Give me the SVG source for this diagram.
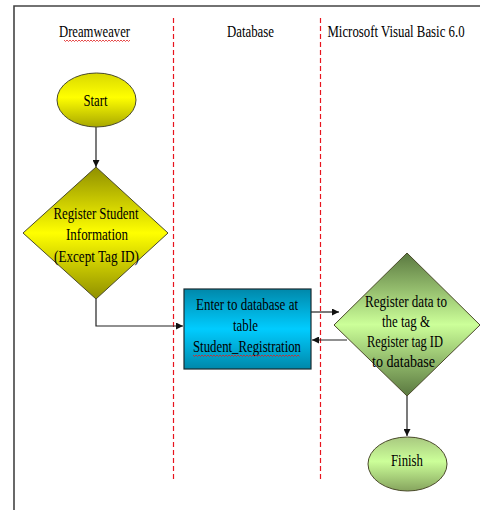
<svg xmlns="http://www.w3.org/2000/svg" width="480" height="510" viewBox="0 0 480 510">
<style>
text{font-family:"Liberation Serif","Times New Roman","DejaVu Serif",serif;font-size:17px;fill:#000;text-anchor:middle}
.lane{stroke:#e8141e;stroke-width:1.2;stroke-dasharray:5,3;fill:none}
.conn{stroke:#222;stroke-width:1.2;fill:none}
.node{stroke:#4a4a2a;stroke-width:1}
.spell{stroke:#e02020;stroke-width:0.8;fill:none}
</style>
<defs>
<linearGradient id="gYellowE" x1="0" y1="0" x2="0" y2="1">
<stop offset="0" stop-color="#d8d800"/><stop offset="0.45" stop-color="#ffff00"/><stop offset="1" stop-color="#a8a800"/>
</linearGradient>
<linearGradient id="gYellowD" x1="0" y1="0" x2="0" y2="1">
<stop offset="0" stop-color="#8f8f00"/><stop offset="0.5" stop-color="#ffff00"/><stop offset="1" stop-color="#8f8f00"/>
</linearGradient>
<linearGradient id="gGreenE" x1="0" y1="0" x2="0" y2="1">
<stop offset="0" stop-color="#a8c880"/><stop offset="0.45" stop-color="#ccff99"/><stop offset="1" stop-color="#86a45e"/>
</linearGradient>
<linearGradient id="gGreenD" x1="0" y1="0" x2="0" y2="1">
<stop offset="0" stop-color="#5a7840"/><stop offset="0.5" stop-color="#ccff99"/><stop offset="1" stop-color="#5a7840"/>
</linearGradient>
<linearGradient id="gBlue" x1="0" y1="0" x2="0" y2="1">
<stop offset="0" stop-color="#0088aa"/><stop offset="0.5" stop-color="#00ccff"/><stop offset="1" stop-color="#0088aa"/>
</linearGradient>
<marker id="arr" viewBox="0 0 10 10" refX="10" refY="5" markerWidth="7" markerHeight="7" orient="auto" markerUnits="userSpaceOnUse">
<path d="M0,0 L10,5 L0,10 z" fill="#111"/>
</marker>
</defs>
<rect width="480" height="510" fill="#fff"/>
<g id="frame">
<path d="M14,510 L14,6 L480,6" fill="none" stroke="#444" stroke-width="1.6"/>
</g>
<g id="lanes">
<line class="lane" x1="173.5" y1="18" x2="173.5" y2="482"/>
<line class="lane" x1="320.5" y1="18" x2="320.5" y2="482"/>
<text x="94.5" y="37" textLength="71" lengthAdjust="spacingAndGlyphs">Dreamweaver</text>
<path class="spell" d="M64,40 l1.5,1.5 l1.5,-1.5 l1.5,1.5 l1.5,-1.5 l1.5,1.5 l1.5,-1.5 l1.5,1.5 l1.5,-1.5 l1.5,1.5 l1.5,-1.5 l1.5,1.5 l1.5,-1.5 l1.5,1.5 l1.5,-1.5 l1.5,1.5 l1.5,-1.5 l1.5,1.5 l1.5,-1.5 l1.5,1.5 l1.5,-1.5 l1.5,1.5 l1.5,-1.5 l1.5,1.5 l1.5,-1.5 l1.5,1.5 l1.5,-1.5 l1.5,1.5 l1.5,-1.5 l1.5,1.5 l1.5,-1.5 l1.5,1.5 l1.5,-1.5 l1.5,1.5 l1.5,-1.5 l1.5,1.5 l1.5,-1.5 l1.5,1.5 l1.5,-1.5 l1.5,1.5 l1.5,-1.5 l1.5,1.5 l1.5,-1.5 l1.5,1.5 l1.5,-1.5"/>
<text x="250.5" y="37" textLength="47" lengthAdjust="spacingAndGlyphs">Database</text>
<text transform="translate(396,37) scale(0.754,1)" x="0" y="0">Microsoft Visual Basic 6.0</text>
</g>
<g id="connectors">
<line class="conn" x1="96" y1="127" x2="96" y2="167" marker-end="url(#arr)"/>
<polyline class="conn" points="96,299 96,326 183,326" marker-end="url(#arr)"/>
<line class="conn" x1="311" y1="312" x2="339" y2="312" marker-end="url(#arr)"/>
<line class="conn" x1="347" y1="340" x2="312" y2="340" marker-end="url(#arr)"/>
<line class="conn" x1="407" y1="396" x2="407" y2="436" marker-end="url(#arr)"/>
</g>
<g id="start">
<ellipse class="node" cx="96.5" cy="100" rx="39.5" ry="27" fill="url(#gYellowE)"/>
<text x="95.5" y="106" textLength="24" lengthAdjust="spacingAndGlyphs">Start</text>
</g>
<g id="register-student">
<polygon class="node" points="96,167 168,233 96,299 23,233" fill="url(#gYellowD)"/>
<text x="96" y="219" textLength="85" lengthAdjust="spacingAndGlyphs">Register Student</text>
<text x="97" y="240" textLength="62" lengthAdjust="spacingAndGlyphs">Information</text>
<text x="96.5" y="262" textLength="85" lengthAdjust="spacingAndGlyphs">(Except Tag ID)</text>
</g>
<g id="enter-database">
<rect x="184" y="289" width="127" height="80" fill="url(#gBlue)" stroke="#1a2a30" stroke-width="1.2"/>
<text x="247" y="310" textLength="102" lengthAdjust="spacingAndGlyphs">Enter to database at</text>
<text x="245.5" y="331" textLength="25" lengthAdjust="spacingAndGlyphs">table</text>
<text x="247" y="352" textLength="108" lengthAdjust="spacingAndGlyphs">Student_Registration</text>
<path class="spell" d="M193,355 l1.5,1.5 l1.5,-1.5 l1.5,1.5 l1.5,-1.5 l1.5,1.5 l1.5,-1.5 l1.5,1.5 l1.5,-1.5 l1.5,1.5 l1.5,-1.5 l1.5,1.5 l1.5,-1.5 l1.5,1.5 l1.5,-1.5 l1.5,1.5 l1.5,-1.5 l1.5,1.5 l1.5,-1.5 l1.5,1.5 l1.5,-1.5 l1.5,1.5 l1.5,-1.5 l1.5,1.5 l1.5,-1.5 l1.5,1.5 l1.5,-1.5 l1.5,1.5 l1.5,-1.5 l1.5,1.5 l1.5,-1.5 l1.5,1.5 l1.5,-1.5 l1.5,1.5 l1.5,-1.5 l1.5,1.5 l1.5,-1.5 l1.5,1.5 l1.5,-1.5 l1.5,1.5 l1.5,-1.5 l1.5,1.5 l1.5,-1.5 l1.5,1.5 l1.5,-1.5 l1.5,1.5 l1.5,-1.5 l1.5,1.5 l1.5,-1.5 l1.5,1.5 l1.5,-1.5 l1.5,1.5 l1.5,-1.5 l1.5,1.5 l1.5,-1.5 l1.5,1.5 l1.5,-1.5 l1.5,1.5 l1.5,-1.5 l1.5,1.5 l1.5,-1.5 l1.5,1.5 l1.5,-1.5 l1.5,1.5 l1.5,-1.5 l1.5,1.5 l1.5,-1.5 l1.5,1.5 l1.5,-1.5 l1.5,1.5 l1.5,-1.5 l1.5,1.5"/>
</g>
<g id="register-tag">
<polygon class="node" points="407,253 480,325 407,396 334,325" fill="url(#gGreenD)"/>
<text x="406" y="307" textLength="82" lengthAdjust="spacingAndGlyphs">Register data to</text>
<text x="406" y="327" textLength="48" lengthAdjust="spacingAndGlyphs">the tag &amp;</text>
<text x="405" y="347" textLength="76" lengthAdjust="spacingAndGlyphs">Register tag ID</text>
<text x="403.5" y="367" textLength="63" lengthAdjust="spacingAndGlyphs">to database</text>
</g>
<g id="finish">
<ellipse class="node" cx="407.5" cy="464" rx="39.5" ry="27" fill="url(#gGreenE)"/>
<text x="407" y="466" textLength="32" lengthAdjust="spacingAndGlyphs">Finish</text>
</g>
</svg>
